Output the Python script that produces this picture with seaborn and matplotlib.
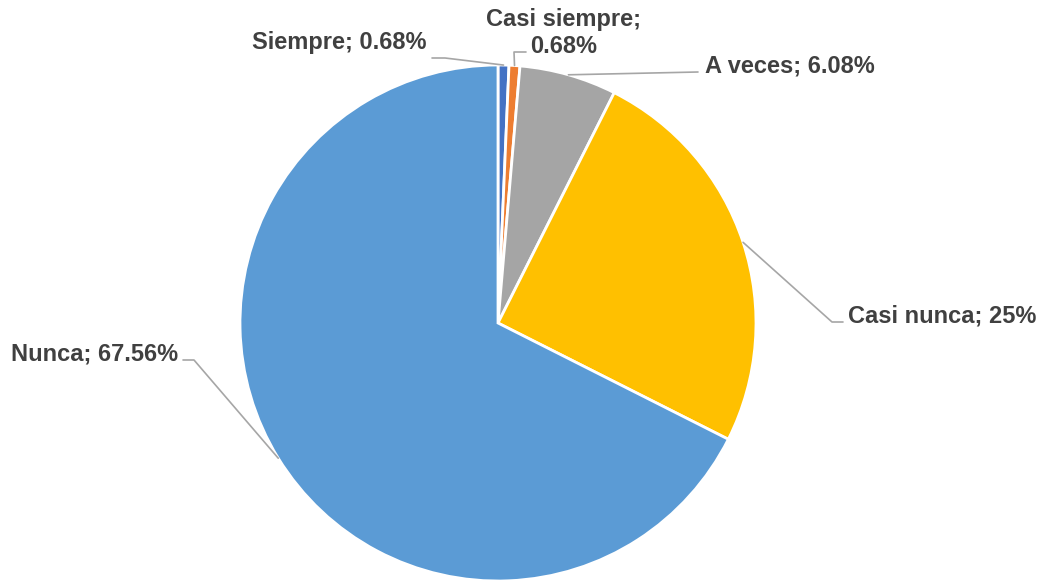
import numpy as np
import seaborn as sns
import matplotlib.pyplot as plt

categories = ['Siempre', 'Casi siempre', 'A veces', 'Casi nunca', 'Nunca']
values = [0.68, 0.68, 6.08, 25, 67.56]
label_texts = ['Siempre; 0.68%', 'Casi siempre;\n0.68%', 'A veces; 6.08%',
               'Casi nunca; 25%', 'Nunca; 67.56%']
colors = ['#4472C4', '#ED7D31', '#A5A5A5', '#FFC000', '#5B9BD5']

sns.set_theme(style='white')
plt.rcParams['font.family'] = ['Liberation Sans', 'DejaVu Sans']

# pixel layout of the reference (center and radius of the pie)
CX, CY, R = 498, 323, 258
W, H = 1046, 582


def px(x, y):
    return (x - CX) / R, (CY - y) / R


fig = plt.figure(figsize=(W / 100, H / 100), dpi=100)
ax = fig.add_axes([(CX - R) / W, (H - CY - R) / H, 2 * R / W, 2 * R / H])

wedges, _ = ax.pie(values, colors=sns.color_palette(colors), startangle=90,
                   counterclock=False, radius=1,
                   wedgeprops=dict(edgecolor='white', linewidth=2))
ax.set_xlim(-1, 1)
ax.set_ylim(-1, 1)
ax.axis('off')

# label anchor (pixels, baseline of last line), alignment, leader elbows
label_pos = [(427, 49, 'right'), (564, 53, 'center'), (705, 73, 'left'),
             (848, 322, 'left'), (178, 361, 'right')]
leaders = [[(445, 58), (432, 58)],
           [(514, 52), (526, 52)],
           [(698, 72)],
           [(832, 322), (843, 322)],
           [(194, 360), (183, 360)]]

line_col = '#A6A6A6'
for w, txt, (lx, ly, ha), pts in zip(wedges, label_texts, label_pos, leaders):
    mid = np.deg2rad((w.theta1 + w.theta2) / 2)
    xs = [np.cos(mid) * 1.0]
    ys = [np.sin(mid) * 1.0]
    for p in pts:
        dx, dy = px(*p)
        xs.append(dx)
        ys.append(dy)
    ax.plot(xs, ys, color=line_col, lw=1.2, clip_on=False)
    tx, ty = px(lx, ly)
    ax.text(tx, ty, txt, ha=ha, va='baseline', fontsize=17, fontweight='bold',
            color='#404040', multialignment='center')

fig.savefig('out.png', dpi=100)
